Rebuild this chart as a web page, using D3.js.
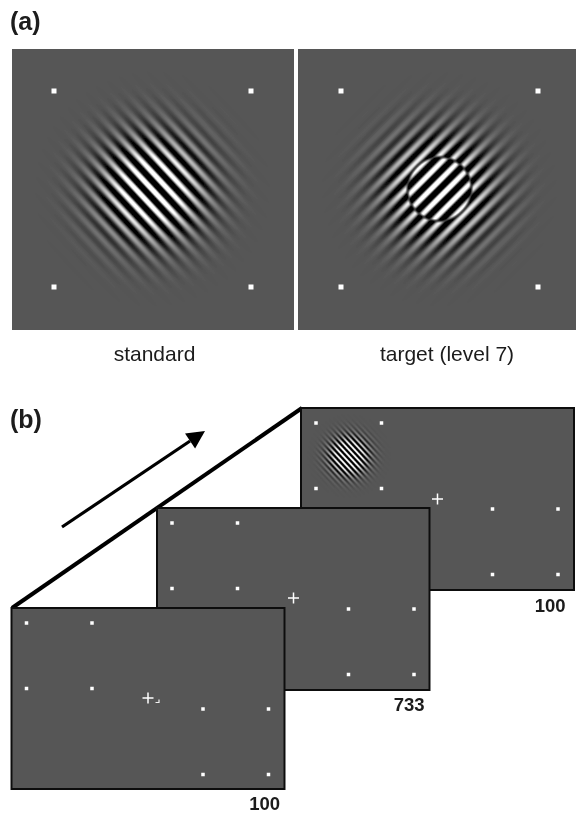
<!DOCTYPE html>
<html><head><meta charset="utf-8">
<script src="https://cdn.jsdelivr.net/npm/d3@7"></script>
<style>html,body{margin:0;padding:0;background:#fff}svg{display:block}text{font-family:"Liberation Sans",Arial,sans-serif;fill:#1a1a1a}</style>
</head><body><svg id="c" width="576" height="813"></svg>
<script>
// Panel (a)
const panelNames = ["standard", "target (level 7)"];
const panelX0 = [12, 298];
const panelX1 = [294, 576];
const panelY = [49, 330];
const panelDotX = [[54, 251], [341, 538]];
const panelDotY = [91, 287];
const panelCaptionX = [154.5, 447];
const gaborCx = [152.5, 439.5];
const gaborCy = [189, 189];
const gaborAngle = [47, -45];      // stripe tilt in degrees
const gaborPeriod = [11.8, 11.8];  // px
const gaborSigma = [33, 33];       // px
const gaborPhase = [0.3, 0];       // radians
const gaborAmp = [2.2, 2.2];
const innerRadius = [0, 32];       // px
const innerShift = [0, Math.PI];   // radians
// Panel (b)
const frameX0 = [11.5, 157, 301];
const frameX1 = [284.5, 429.5, 574];
const frameY0 = [608, 508, 408];
const frameY1 = [789, 690, 590];
const frameLabels = ["100", "733", "100"];
const frameLabelX = [280, 424.5, 565.5];
const frameLabelY = [810, 711, 612];
const dotXOff = [15, 80.5, 191.5, 257];
const dotYOff = [15, 80.5, 101, 166.5];
const crossX = [148, 293.5, 437.5];
const crossY = [698, 598, 499];
const smallGabor = {cx: 349, cy: 456, angle: 47, period: 4.2, sigma: 11.5, amp: 3};
const arrow = [[62, 527], [205, 431]];
const sweep = [[12, 608], [302, 408]];

const svg = d3.select("#c");
// contrast to gray level; values outside 0-255 clip in the image buffer
const toGray = d3.scaleLinear().domain([-1, 0, 1]).range([-41, 86, 213]);

function gabor(x0, y0, w, h, cx, cy, angle, period, sigma, phase, amp, r, shift) {
  const s = 3, cv = document.createElement("canvas");
  cv.width = w * s; cv.height = h * s;
  const ctx = cv.getContext("2d"), im = ctx.createImageData(cv.width, cv.height);
  const a = angle * Math.PI / 180, nx = Math.sin(a), ny = -Math.cos(a);
  for (let j = 0; j < cv.height; j++) for (let i = 0; i < cv.width; i++) {
    const dx = x0 + (i + .5) / s - cx, dy = y0 + (j + .5) / s - cy;
    const d = dx * nx + dy * ny, rr = Math.hypot(dx, dy);
    const p = 2 * Math.PI * d / period + phase;
    const m = r > 0 ? Math.min(1, Math.max(0, (rr - r + 2) / 4)) : 1;
    const env = amp * Math.exp(-rr * rr / (2 * sigma * sigma));
    const ring = r > 0 ? 0.15 * Math.exp(-((rr - r) ** 2) / 4) : 0;
    const v = toGray(env * ((1 - m) * Math.cos(p + shift) + m * Math.cos(p) - ring));
    const k = 4 * (j * cv.width + i);
    im.data[k] = im.data[k + 1] = im.data[k + 2] = v; im.data[k + 3] = 255;
  }
  ctx.putImageData(im, 0, 0);
  return cv.toDataURL();
}

svg.append("defs").append("filter").attr("id", "soft")
  .attr("filterUnits", "userSpaceOnUse").attr("x", 0).attr("y", 0).attr("width", 576).attr("height", 813)
  .append("feGaussianBlur").attr("stdDeviation", 0.4);
const root = svg.append("g").attr("filter", "url(#soft)");
root.append("rect").attr("width", 576).attr("height", 813).attr("fill", "#fff");

// (a)
panelNames.forEach((name, i) => {
  const w = panelX1[i] - panelX0[i], h = panelY[1] - panelY[0];
  root.append("image").attr("x", panelX0[i]).attr("y", panelY[0]).attr("width", w).attr("height", h)
    .attr("href", gabor(panelX0[i], panelY[0], w, h, gaborCx[i], gaborCy[i], gaborAngle[i], gaborPeriod[i], gaborSigma[i], gaborPhase[i], gaborAmp[i], innerRadius[i], innerShift[i]));
  panelDotX[i].forEach(x => panelDotY.forEach(y =>
    root.append("rect").attr("x", x - 2.5).attr("y", y - 2.5).attr("width", 5).attr("height", 5).attr("fill", "#fff")));
  root.append("text").attr("x", panelCaptionX[i]).attr("y", 361).attr("text-anchor", "middle").attr("font-size", 21).text(name);
});
root.append("text").attr("x", 10).attr("y", 30).attr("font-size", 25).attr("font-weight", "bold").text("(a)");
root.append("text").attr("x", 10).attr("y", 428).attr("font-size", 25).attr("font-weight", "bold").text("(b)");

// (b) back to front
const line = d3.line();
root.append("path").attr("d", line(sweep)).attr("stroke", "#000").attr("stroke-width", 4).attr("fill", "none");
[2, 1, 0].forEach(i => {
  const w = frameX1[i] - frameX0[i], h = frameY1[i] - frameY0[i];
  root.append("rect").attr("x", frameX0[i]).attr("y", frameY0[i]).attr("width", w).attr("height", h)
    .attr("fill", "#565656").attr("stroke", "#111").attr("stroke-width", 2);
  if (i === 2) {
    const g = smallGabor, R = 46, X = Math.round(g.cx - R), Y = Math.round(g.cy - R);
    root.append("image").attr("x", X).attr("y", Y).attr("width", 2 * R).attr("height", 2 * R)
      .attr("href", gabor(X, Y, 2 * R, 2 * R, g.cx, g.cy, g.angle, g.period, g.sigma, 0, g.amp, 0, 0));
  }
  dotXOff.forEach((dx, a) => {
    const ys = a < 2 ? dotYOff.slice(0, 2) : dotYOff.slice(2);
    ys.forEach(dy => root.append("rect").attr("x", frameX0[i] + dx - 1.75).attr("y", frameY0[i] + dy - 1.75)
      .attr("width", 3.5).attr("height", 3.5).attr("fill", "#fff"));
  });
  root.append("path").attr("d", `M${crossX[i] - 5.5},${crossY[i]}H${crossX[i] + 5.5}M${crossX[i]},${crossY[i] - 5.5}V${crossY[i] + 5.5}`)
    .attr("stroke", "#fff").attr("stroke-width", 1.5).attr("fill", "none");
  root.append("text").attr("x", frameLabelX[i]).attr("y", frameLabelY[i]).attr("text-anchor", "end")
    .attr("font-size", 18.5).attr("font-weight", "bold").text(frameLabels[i]);
});
// small response corner in frame 1
root.append("path").attr("d", "M159,699.5V702.5H155.5").attr("stroke", "#f2f2f2").attr("stroke-width", 1.2).attr("fill", "none");

// arrow
const [A, B] = arrow, ang = Math.atan2(B[1] - A[1], B[0] - A[0]), L = 18, W = 9;
const base = [B[0] - L * Math.cos(ang), B[1] - L * Math.sin(ang)];
root.append("path").attr("d", line([A, base])).attr("stroke", "#000").attr("stroke-width", 3.2).attr("fill", "none");
root.append("path").attr("d", line([B,
  [base[0] + W * Math.sin(ang), base[1] - W * Math.cos(ang)],
  [base[0] - W * Math.sin(ang), base[1] + W * Math.cos(ang)]]) + "Z").attr("fill", "#000");
</script></body></html>
